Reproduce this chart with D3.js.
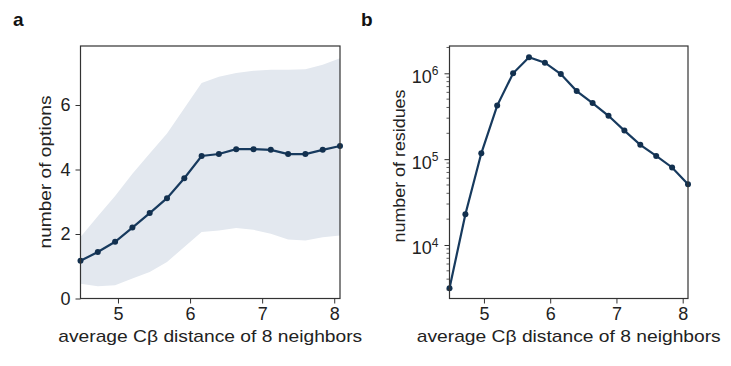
<!DOCTYPE html>
<html>
<head>
<meta charset="utf-8">
<script src="https://cdn.jsdelivr.net/npm/d3@7"></script>
<style>
    body { margin: 0; background: #ffffff; }
    svg { display: block; font-family: "Liberation Sans", Arial, sans-serif; }
</style>
</head>
<body>
<div id="chart"></div>
<script>
// values
var distance = [4.48, 4.72, 4.96, 5.20, 5.44, 5.68, 5.92, 6.16, 6.40, 6.64, 6.88, 7.12, 7.36, 7.60, 7.84, 8.08];
var optionsMean  = [1.17, 1.44, 1.76, 2.20, 2.65, 3.11, 3.73, 4.42, 4.48, 4.63, 4.63, 4.61, 4.48, 4.48, 4.61, 4.73];
var optionsUpper = [1.91, 2.55, 3.18, 3.87, 4.50, 5.12, 5.90, 6.68, 6.88, 6.99, 7.06, 7.09, 7.09, 7.11, 7.25, 7.45];
var optionsLower = [0.46, 0.38, 0.41, 0.62, 0.82, 1.13, 1.60, 2.06, 2.11, 2.19, 2.13, 2.01, 1.83, 1.80, 1.90, 1.95];
var residueCount = [3130, 22800, 117000, 421000, 1000000, 1540000, 1330000, 980000, 620000,
                    450000, 320000, 215000, 147000, 109000, 80000, 51000];
var xTicks = [5, 6, 7, 8];
var optionTicks = [0, 2, 4, 6];
var residueTicks = [1e4, 1e5, 1e6];
var xLabel = "average C\u03b2 distance of 8 neighbors";

var lineColor = "#173a5e";
var bandColor = "#e3e8ef";
var axisColor = "#333333";

var svg = d3.select("#chart").append("svg")
    .attr("width", 731)
    .attr("height", 366);

var drawFrame = function drawFrame(g, x, y) {
    var r = x.range(), t = y.range();
    g.append("rect")
        .attr("x", r[0]).attr("y", t[1])
        .attr("width", r[1] - r[0]).attr("height", t[0] - t[1])
        .attr("fill", "none")
        .attr("stroke", axisColor)
        .attr("stroke-width", 1.2);
};

var styleAxis = function styleAxis(sel) {
    sel.select(".domain").remove();
    sel.selectAll(".tick line").attr("stroke", axisColor).attr("stroke-width", 1);
    sel.selectAll(".tick text")
        .attr("fill", "#222")
        .style("font-size", "18px");
};

var xAxisFor = function xAxisFor(g, x, y) {
    var ax = g.append("g")
        .attr("transform", "translate(0," + y.range()[0] + ")")
        .call(d3.axisBottom(x).tickValues(xTicks).tickSize(5).tickPadding(4).tickFormat(d3.format("d")));
    styleAxis(ax);

    var mid = (x.range()[0] + x.range()[1]) / 2;
    g.append("text")
        .attr("x", mid)
        .attr("y", 342)
        .attr("text-anchor", "middle")
        .attr("textLength", 304)
        .attr("lengthAdjust", "spacingAndGlyphs")
        .attr("fill", "#222")
        .style("font-size", "17px")
        .text(xLabel);
};

var yLabelFor = function yLabelFor(g, text, xPos, yMid) {
    g.append("text")
        .attr("transform", "translate(" + xPos + "," + yMid + ") rotate(-90)")
        .attr("text-anchor", "middle")
        .attr("textLength", 153)
        .attr("lengthAdjust", "spacingAndGlyphs")
        .attr("fill", "#222")
        .style("font-size", "17px")
        .text(text);
};

var drawLine = function drawLine(g, x, y, values) {
    var pts = distance.map(function(d, i) { return [d, values[i]]; });
    g.append("path")
        .datum(pts)
        .attr("fill", "none")
        .attr("stroke", lineColor)
        .attr("stroke-width", 2.2)
        .attr("d", d3.line().x(function(d) { return x(d[0]); }).y(function(d) { return y(d[1]); }));

    g.selectAll("circle.pt")
        .data(pts)
        .enter().append("circle")
        .attr("class", "pt")
        .attr("cx", function(d) { return x(d[0]); })
        .attr("cy", function(d) { return y(d[1]); })
        .attr("r", 3)
        .attr("fill", "#12304f");
};

// panel a
var panelA = function panelA() {
    var g = svg.append("g");
    var x = d3.scaleLinear().domain(d3.extent(distance)).range([80.5, 340]);
    var y = d3.scaleLinear().domain([0, 7.83]).range([298.5, 46]);

    var band = distance.map(function(d, i) { return [d, optionsLower[i], optionsUpper[i]]; });
    g.append("path")
        .datum(band)
        .attr("fill", bandColor)
        .attr("d", d3.area()
            .x(function(d) { return x(d[0]); })
            .y0(function(d) { return y(d[1]); })
            .y1(function(d) { return y(d[2]); }));

    drawLine(g, x, y, optionsMean);

    var ay = g.append("g")
        .attr("transform", "translate(" + x.range()[0] + ",0)")
        .call(d3.axisLeft(y).tickValues(optionTicks).tickSize(5).tickPadding(5).tickFormat(d3.format("d")));
    styleAxis(ay);

    xAxisFor(g, x, y);
    drawFrame(g, x, y);
    yLabelFor(g, "number of options", 51, 172);

    svg.append("text").attr("x", 13).attr("y", 26)
        .style("font-size", "19px").style("font-weight", "bold").attr("fill", "#111").text("a");
};

// panel b
var panelB = function panelB() {
    var g = svg.append("g");
    var x = d3.scaleLinear().domain(d3.extent(distance)).range([449.5, 688]);
    var y = d3.scaleLog().domain([2380, 2.08e6]).range([298.5, 46]);

    drawLine(g, x, y, residueCount);

    var minor = [];
    [1e3, 1e4, 1e5, 1e6].forEach(function(p) {
        for (var k = 2; k < 10; k++) {
            var v = k * p;
            if (v >= y.domain()[0] && v <= y.domain()[1]) minor.push(v);
        }
    });
    g.append("g").selectAll("line")
        .data(minor)
        .enter().append("line")
        .attr("x1", x.range()[0] - 3).attr("x2", x.range()[0])
        .attr("y1", function(d) { return y(d); }).attr("y2", function(d) { return y(d); })
        .attr("stroke", axisColor).attr("stroke-width", 0.8);

    var ay = g.append("g")
        .attr("transform", "translate(" + x.range()[0] + ",0)")
        .call(d3.axisLeft(y).tickValues(residueTicks).tickSize(5).tickPadding(6).tickFormat(""));
    styleAxis(ay);
    ay.selectAll(".tick").each(function(d) {
        var t = d3.select(this).select("text").attr("dy", "0.5em");
        t.append("tspan").text("10");
        t.append("tspan").attr("dy", "-0.65em").style("font-size", "12px")
            .text(Math.round(Math.log10(d)));
    });

    xAxisFor(g, x, y);
    drawFrame(g, x, y);
    yLabelFor(g, "number of residues", 405, 166);

    svg.append("text").attr("x", 361).attr("y", 26)
        .style("font-size", "19px").style("font-weight", "bold").attr("fill", "#111").text("b");
};

panelA();
panelB();
</script>
</body>
</html>
